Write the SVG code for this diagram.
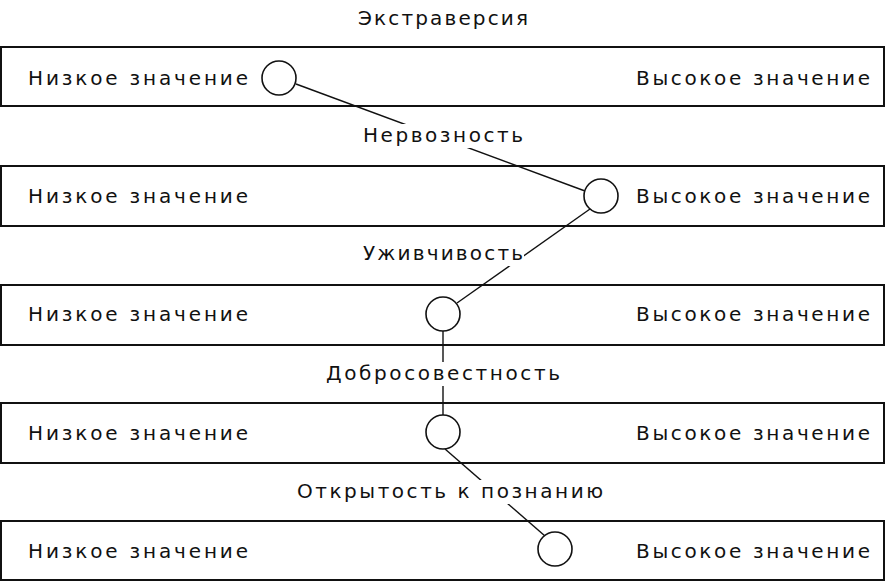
<svg xmlns="http://www.w3.org/2000/svg" width="886" height="582" viewBox="0 0 886 582">
<style>
.bar{fill:#fff;stroke:#111;stroke-width:2}
.t{font-family:"DejaVu Sans","Liberation Sans",sans-serif;font-size:20px;fill:#111}
.c{fill:#fff;stroke:#111;stroke-width:1.6}
.l{stroke:#111;stroke-width:1.4;fill:none}
.bg{fill:#fff}
</style>
<rect width="886" height="582" fill="#fff"/>
<text class="t" x="443" y="25" text-anchor="middle" textLength="170">Экстраверсия</text>
<g id="row1"><rect class="bar" x="1" y="47" width="883" height="59"/>
<text class="t" x="28" y="85" textLength="220">Низкое значение</text>
<text class="t" x="636" y="85" textLength="234">Высокое значение</text></g>
<g id="row2"><rect class="bar" x="1" y="166" width="883" height="60"/>
<text class="t" x="28" y="203" textLength="220">Низкое значение</text>
<text class="t" x="636" y="203" textLength="234">Высокое значение</text></g>
<g id="row3"><rect class="bar" x="1" y="285" width="883" height="60"/>
<text class="t" x="28" y="321" textLength="220">Низкое значение</text>
<text class="t" x="636" y="321" textLength="234">Высокое значение</text></g>
<g id="row4"><rect class="bar" x="1" y="403" width="883" height="60"/>
<text class="t" x="28" y="440" textLength="220">Низкое значение</text>
<text class="t" x="636" y="440" textLength="234">Высокое значение</text></g>
<g id="row5"><rect class="bar" x="1" y="521" width="883" height="59"/>
<text class="t" x="28" y="558" textLength="220">Низкое значение</text>
<text class="t" x="636" y="558" textLength="234">Высокое значение</text></g>
<g id="connectors">
<line class="l" x1="296" y1="84" x2="585" y2="191"/>
<line class="l" x1="590" y1="209" x2="457" y2="303"/>
<line class="l" x1="443" y1="331" x2="443" y2="415"/>
<line class="l" x1="445" y1="449" x2="545" y2="536"/>
</g>
<g id="labels">
<rect class="bg" x="362" y="124" width="162" height="24"/>
<text class="t" x="443" y="142" text-anchor="middle" textLength="160">Нервозность</text>
<rect class="bg" x="362" y="242" width="162" height="24"/>
<text class="t" x="443" y="260" text-anchor="middle" textLength="160">Уживчивость</text>
<rect class="bg" x="326" y="362" width="236" height="24"/>
<text class="t" x="443" y="380" text-anchor="middle" textLength="234">Добросовестность</text>
<rect class="bg" x="296" y="480" width="308" height="24"/>
<text class="t" x="450" y="498" text-anchor="middle" textLength="306">Открытость к познанию</text>
</g>
<g id="nodes">
<circle id="n1" class="c" cx="279" cy="78" r="17"/>
<circle id="n2" class="c" cx="601" cy="196" r="17"/>
<circle id="n3" class="c" cx="443" cy="314" r="17"/>
<circle id="n4" class="c" cx="443" cy="432" r="17"/>
<circle id="n5" class="c" cx="555" cy="549" r="17"/>
</g>
</svg>
